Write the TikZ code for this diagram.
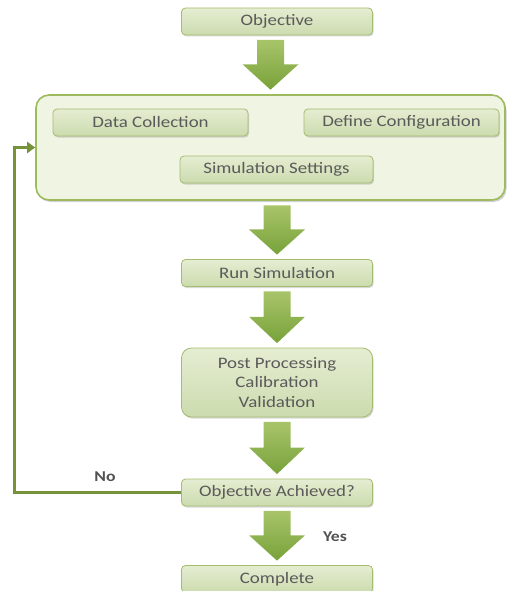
\documentclass[tikz,border=0pt]{standalone}
\usepackage{fontspec}
\setmainfont{Carlito}[FakeStretch=1.18]
\usetikzlibrary{arrows.meta,shadows,calc}

\definecolor{boxtop}{HTML}{E5EDD2}
\definecolor{boxbot}{HTML}{CCDBAE}
\definecolor{boxline}{HTML}{A4BC70}
\definecolor{panelfill}{HTML}{F0F4E3}
\definecolor{panelline}{HTML}{9DBB5E}
\definecolor{txt}{HTML}{5A5A5A}
\definecolor{looplc}{HTML}{76933C}
\definecolor{arrtop}{HTML}{A8C46A}
\definecolor{arrbot}{HTML}{78A23A}

\tikzset{
  stepbox/.style={rectangle, rounded corners=4pt, draw=boxline, line width=0.8pt,
    top color=boxtop, bottom color=boxbot, text=txt,
    font=\fontsize{16}{19}\selectfont, align=center,
    minimum width=191pt, minimum height=27pt, inner sep=0pt,
    drop shadow={shadow xshift=1pt, shadow yshift=-1.5pt, opacity=0.25, fill=black!60}},
  panel/.style={rectangle, rounded corners=13pt, draw=panelline, line width=1.6pt,
    fill=panelfill, minimum width=469pt, minimum height=105pt, inner sep=0pt,
    drop shadow={shadow xshift=1.5pt, shadow yshift=-2pt, opacity=0.3, fill=black!60}},
  blockarrow/.style={top color=arrtop, bottom color=arrbot, draw=none},
  feedback/.style={draw=looplc, line width=3pt,
    -{Triangle[length=8pt,width=11pt]}},
  answer/.style={font=\fontsize{15}{17}\selectfont\bfseries, text=txt!90!black}
}

% block arrow from the bottom of node #1 to the top of node #2
\newcommand\flowarrow[2]{%
  \path[blockarrow] let \p1=(#1.south), \p2=(#2.north),
      \n1={\y1-4.5pt}, \n2={\y2+4.5pt}, \n3={(\y1+\y2)/2 + 0.5pt} in
    (\x2-13.5pt,\n1) -- (\x2+13.5pt,\n1) -- (\x2+13.5pt,\n3) -- (\x2+28pt,\n3)
    -- (\x2,\n2) -- (\x2-28pt,\n3) -- (\x2-13.5pt,\n3) -- cycle;}

\begin{document}
\begin{tikzpicture}[x=1pt,y=-1pt]
\useasboundingbox (0,0) rectangle (507,591);

\node[stepbox] (obj) at (277,21.5) {Objective};

\node[panel] (cont) at (270.5,147.5) {};
\node[stepbox, minimum width=195pt] (dc) at (150.5,122.5) {Data Collection};
\node[stepbox, minimum width=195pt] (dfc) at (401.5,122.5) {Define Configuration};
\node[stepbox, minimum width=193pt] (ss) at (276.5,169.5) {Simulation Settings};

\node[stepbox] (run) at (277,273) {Run Simulation};
\node[stepbox, minimum height=69pt, rounded corners=10pt,
      font=\fontsize{16}{19.5}\selectfont] (post) at (277,382.5)
  {Post Processing\\Calibration\\Validation};
\node[stepbox] (oa) at (277,492.5) {Objective Achieved?};
\node[stepbox] (done) at (277,579) {Complete};

\flowarrow{obj}{cont}
\flowarrow{cont}{run}
\flowarrow{run}{post}
\flowarrow{post}{oa}
\flowarrow{oa}{done}

\coordinate (fb) at (14,147.5);
\draw[feedback] (oa.west) -| (fb) -- (cont.west);

\node[answer] (no) at (105,477) {No};
\node[answer] (yes) at (335,537) {Yes};
\end{tikzpicture}
\end{document}
